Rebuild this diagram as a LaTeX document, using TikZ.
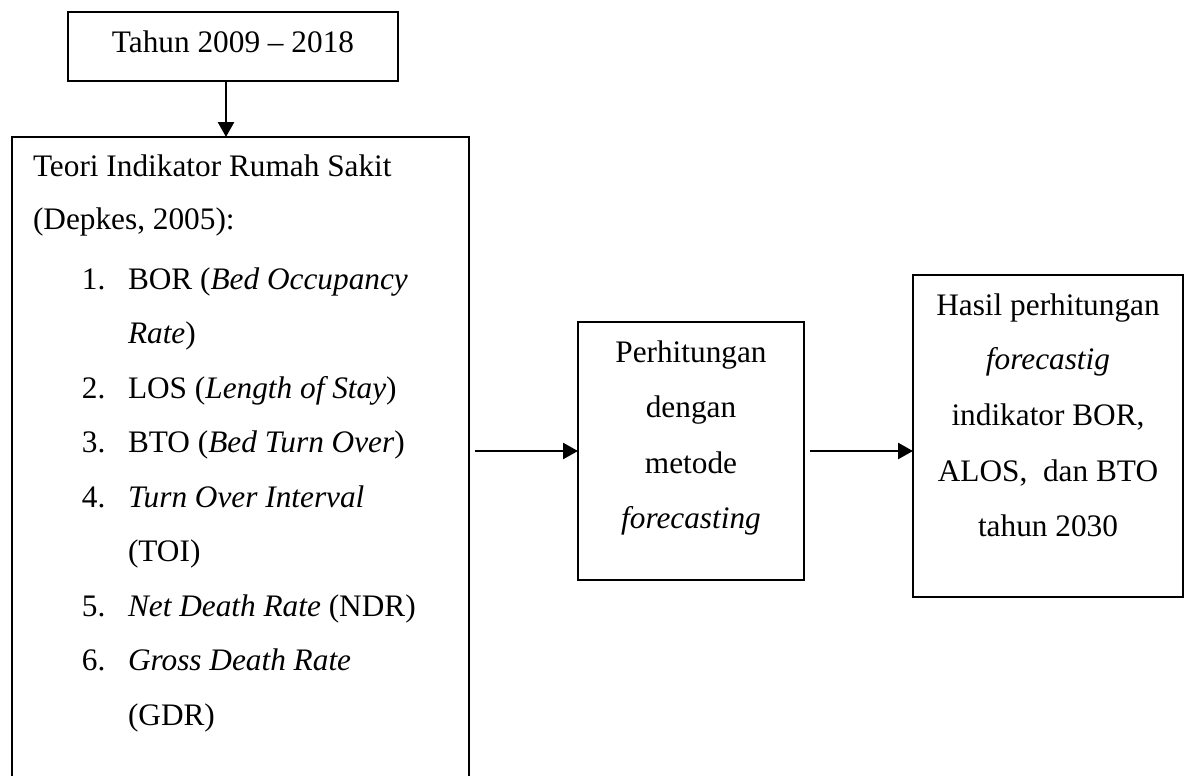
\documentclass[tikz,border=0pt]{standalone}
\usepackage{fontspec}
\setmainfont{Liberation Serif}
\usetikzlibrary{arrows.meta}
\tikzset{
  box/.style={draw, line width=1.2pt, rectangle, inner sep=0pt, outer sep=0pt},
  txt/.style={inner sep=0pt, outer sep=0pt, anchor=base, font=\fontsize{15.65pt}{18pt}\selectfont},
  ltxt/.style={txt, anchor=base west},
  arr/.style={line width=1.3pt, -{Triangle[length=7.5pt,width=8pt]}}
}
\begin{document}
\begin{tikzpicture}[x=0.5pt,y=-0.5pt]
\useasboundingbox (0,0) rectangle (1185,776);
\clip (0,0) rectangle (1185,776);
% boxes
\node[box, minimum width=165pt, minimum height=34.5pt] (top) at (233,46.5) {};
\node[box, minimum width=228.5pt, minimum height=331.5pt] (big) at (240.5,468.5) {};
\node[box, minimum width=113pt, minimum height=129pt] (mid) at (691,451) {};
\node[box, minimum width=135pt, minimum height=161pt] (res) at (1048,436) {};
% top text
\node[txt] (t1) at (233,53) {Tahun 2009 -- 2018};
% big box text
\node[ltxt] (b1) at (33,176) {Teori Indikator Rumah Sakit};
\node[ltxt] (b2) at (33,229) {(Depkes, 2005):};
\node[ltxt] (n1) at (82,289) {1.};
\node[ltxt] (i1) at (128,289) {BOR (\textit{Bed Occupancy}};
\node[ltxt] (i1b) at (128,343.5) {\textit{Rate})};
\node[ltxt] (n2) at (82,398) {2.};
\node[ltxt] (i2) at (128,398) {LOS (\textit{Length of Stay})};
\node[ltxt] (n3) at (82,452.5) {3.};
\node[ltxt] (i3) at (128,452.5) {BTO (\textit{Bed Turn Over})};
\node[ltxt] (n4) at (82,507) {4.};
\node[ltxt] (i4) at (128,507) {\textit{Turn Over Interval}};
\node[ltxt] (i4b) at (128,561.5) {(TOI)};
\node[ltxt] (n5) at (82,616) {5.};
\node[ltxt] (i5) at (128,616) {\textit{Net Death Rate} (NDR)};
\node[ltxt] (n6) at (82,670.5) {6.};
\node[ltxt] (i6) at (128,670.5) {\textit{Gross Death Rate}};
\node[ltxt] (i6b) at (128,725) {(GDR)};
% middle box text
\node[txt] (m1) at (691,362) {Perhitungan};
\node[txt] (m2) at (691,417) {dengan};
\node[txt] (m3) at (691,473) {metode};
\node[txt] (m4) at (691,528) {\textit{forecasting}};
% result box text
\node[txt] (r1) at (1048,315) {Hasil perhitungan};
\node[txt] (r2) at (1048,369) {\textit{forecastig}};
\node[txt] (r3) at (1048,425) {indikator BOR,};
\node[txt] (r4) at (1048,481) {ALOS,\ \ dan BTO};
\node[txt] (r5) at (1048,536) {tahun 2030};
% connectors
\coordinate (cx) at (226,0);
\draw[arr] (top.south -| cx) -- (big.north -| cx);
\draw[arr] ([xshift=3pt]big.east |- mid.west) -- (mid.west);
\draw[arr] ([xshift=3pt]mid.east) -- (mid.east -| res.west);
\end{tikzpicture}
\end{document}
